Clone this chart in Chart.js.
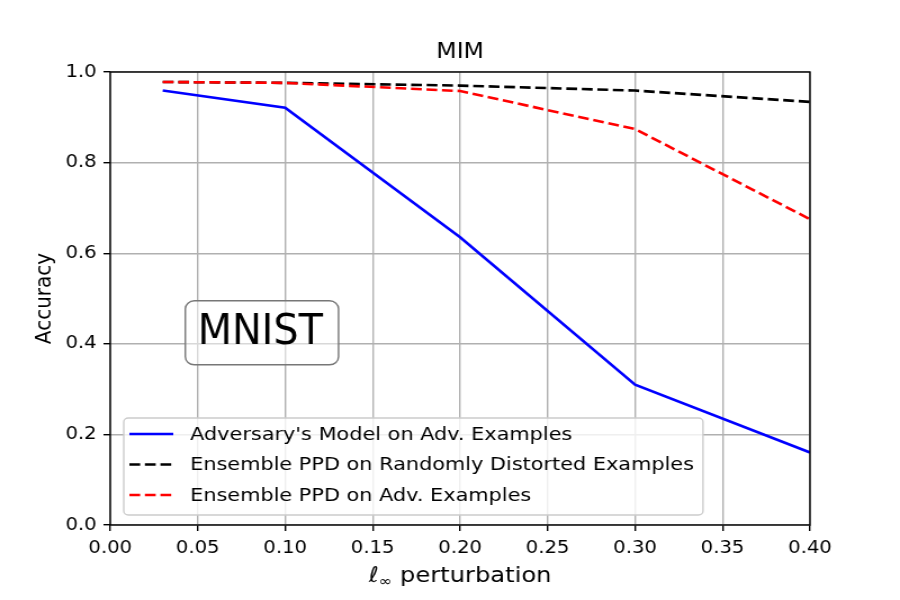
<!DOCTYPE html>
<html>
<head>
<meta charset="utf-8">
<script src="https://cdn.jsdelivr.net/npm/chart.js@4.4.0/dist/chart.umd.min.js"></script>
<style>
  html, body { margin: 0; padding: 0; background: #fff; }
  #chart { display: block; }
</style>
</head>
<body>
<!-- drawn at 800x600 and stretched to 900x600, like the reference -->
<canvas id="chart" width="800" height="600" style="width:900px;height:600px"></canvas>
<script>
// Data
const epsilons = [0.03, 0.1, 0.2, 0.3, 0.4];
const advModel = [0.959, 0.921, 0.635, 0.31, 0.16];
const ppdRandom = [0.978, 0.976, 0.970, 0.959, 0.934];
const ppdAdv = [0.978, 0.976, 0.958, 0.874, 0.675];

const seriesLabels = [
  "Adversary's Model on Adv. Examples",
  "Ensemble PPD on Randomly Distorted Examples",
  "Ensemble PPD on Adv. Examples",
];

const xTicks = { min: 0, max: 0.4, step: 0.05 };
const yTicks = { min: 0, max: 1, step: 0.2 };

const toPoints = (ys) => epsilons.map((x, i) => ({ x: x, y: ys[i] }));

Chart.defaults.font.family = "'DejaVu Sans', sans-serif";
Chart.defaults.color = "#000";

// Title, box, legend, annotation and x label drawn on top of the plot
const decorations = {
  id: "decorations",
  afterDatasetsDraw(chart) {
    const ctx = chart.ctx;
    const a = chart.chartArea;
    const xs = chart.scales.x;
    const ys = chart.scales.y;
    const cx = (a.left + a.right) / 2;

    ctx.save();

    // spines
    ctx.strokeStyle = "#000";
    ctx.lineWidth = 1.4;
    ctx.strokeRect(a.left, a.top, a.right - a.left, a.bottom - a.top);

    // title, centred over the axes
    ctx.font = "21px 'DejaVu Sans'";
    ctx.fillStyle = "#000";
    ctx.textAlign = "center";
    ctx.textBaseline = "alphabetic";
    ctx.fillText("MIM", cx, a.top - 14);

    // MNIST text box
    const tx = xs.getPixelForValue(0.05);
    const ty = ys.getPixelForValue(0.4);
    ctx.font = "42px 'DejaVu Sans'";
    const sx = 0.84;
    const tw = ctx.measureText("MNIST").width * sx;
    ctx.beginPath();
    ctx.roundRect(tx - 11, ty - 43, tw + 25, 64, 8);
    ctx.fillStyle = "rgba(255,255,255,0.5)";
    ctx.fill();
    ctx.strokeStyle = "#777";
    ctx.lineWidth = 1.4;
    ctx.stroke();
    ctx.save();
    ctx.translate(tx, ty);
    ctx.scale(sx, 1);
    ctx.fillStyle = "#000";
    ctx.textBaseline = "alphabetic";
    ctx.textAlign = "left";
    ctx.fillText("MNIST", 0, 0);
    ctx.restore();

    // legend
    ctx.font = "18.5px 'DejaVu Sans'";
    const sets = chart.data.datasets;
    let maxW = 0;
    sets.forEach((d) => { maxW = Math.max(maxW, ctx.measureText(d.label).width); });
    const lx = a.left + 12;
    const lb = a.bottom - 10;
    const lt = lb - 97;
    const lw = 59 + maxW + 8;
    ctx.beginPath();
    ctx.roundRect(lx, lt, lw, lb - lt, 4);
    ctx.fillStyle = "rgba(255,255,255,0.8)";
    ctx.fill();
    ctx.strokeStyle = "#cccccc";
    ctx.lineWidth = 1.4;
    ctx.stroke();
    ctx.textBaseline = "middle";
    ctx.textAlign = "left";
    sets.forEach((d, i) => {
      const ry = lt + 16 + i * 30.5;
      ctx.beginPath();
      ctx.setLineDash(d.borderDash || []);
      ctx.strokeStyle = d.borderColor;
      ctx.lineWidth = d.borderWidth;
      ctx.moveTo(lx + 5, ry);
      ctx.lineTo(lx + 44, ry);
      ctx.stroke();
      ctx.setLineDash([]);
      ctx.fillStyle = "#000";
      ctx.fillText(d.label, lx + 59, ry + 1);
    });

    // x axis label: l_inf perturbation
    const big = "21.5px 'DejaVu Sans'";
    const small = "14.5px 'DejaVu Sans'";
    ctx.font = big;
    const w1 = ctx.measureText("\u2113").width;
    const w3 = ctx.measureText(" perturbation").width;
    ctx.font = small;
    const w2 = ctx.measureText("\u221E").width;
    let px = cx - (w1 + w2 + w3) / 2;
    const base = 582;
    ctx.textBaseline = "alphabetic";
    ctx.fillStyle = "#000";
    ctx.font = "italic " + big;
    ctx.fillText("\u2113", px, base);
    px += w1;
    ctx.font = small;
    ctx.fillText("\u221E", px, base + 4);
    px += w2;
    ctx.font = big;
    ctx.fillText(" perturbation", px, base);

    ctx.restore();
  },
};

var ctx = document.getElementById("chart");
var chart = new Chart(ctx, {
  type: "line",
  data: {
    datasets: [
      {
        label: seriesLabels[0],
        data: toPoints(advModel),
        borderColor: "#0000ff",
        backgroundColor: "#0000ff",
        borderWidth: 2.6,
        order: 3,
      },
      {
        label: seriesLabels[1],
        data: toPoints(ppdRandom),
        borderColor: "#000000",
        backgroundColor: "#000000",
        borderWidth: 2.6,
        borderDash: [9.6, 4.2],
        order: 2,
      },
      {
        label: seriesLabels[2],
        data: toPoints(ppdAdv),
        borderColor: "#ff0000",
        backgroundColor: "#ff0000",
        borderWidth: 2.6,
        borderDash: [9.6, 4.2],
        order: 1,
      },
    ],
  },
  options: {
    responsive: false,
    animation: false,
    devicePixelRatio: 1,
    layout: { padding: { left: 0, right: 80, top: 72, bottom: 0 } },
    elements: {
      point: { radius: 0, hoverRadius: 0 },
      line: { tension: 0, fill: false },
    },
    plugins: {
      legend: { display: false },
      tooltip: { enabled: false },
      title: { display: false },
    },
    scales: {
      x: {
        type: "linear",
        min: xTicks.min,
        max: xTicks.max,
        afterFit: (s) => { s.height = 75; },
        ticks: {
          stepSize: xTicks.step,
          autoSkip: false,
          maxRotation: 0,
          padding: 7,
          color: "#000",
          font: { size: 17.5 },
          callback: (v) => Number(v).toFixed(2),
        },
        grid: {
          color: "#b0b0b0",
          lineWidth: 1.4,
          tickColor: "#000",
          tickLength: 6,
          tickWidth: 1.4,
        },
        border: { display: false },
        title: { display: false },
      },
      y: {
        min: yTicks.min,
        max: yTicks.max,
        afterFit: (s) => { s.width = 98; },
        ticks: {
          stepSize: yTicks.step,
          padding: 6,
          color: "#000",
          font: { size: 17.5 },
          callback: (v) => Number(v).toFixed(1),
        },
        grid: {
          color: "#b0b0b0",
          lineWidth: 1.4,
          tickColor: "#000",
          tickLength: 6,
          tickWidth: 1.4,
        },
        border: { display: false },
        title: {
          display: true,
          text: "Accuracy",
          color: "#000",
          font: { size: 20 },
          padding: { top: 28, bottom: 0 },
        },
      },
    },
  },
  plugins: [decorations],
});
</script>
</body>
</html>
